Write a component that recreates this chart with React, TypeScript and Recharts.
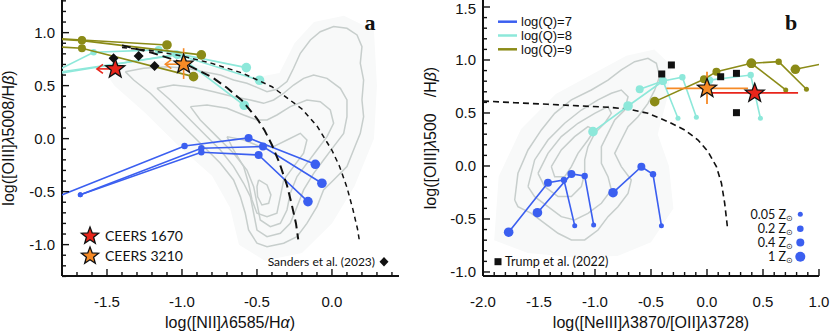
import React from 'react';
import { ComposedChart, Scatter, XAxis, YAxis } from 'recharts';

type Pt = { x: number; y: number; z?: number };
const pts = (rows: number[][]): Pt[] => rows.map(([x, y, z]) => ({ x, y, z }));

const BLUE = '#3b5ff0';
const TEAL = '#8de8da';
const OLIVE = '#8b8b17';
const GREY = '#c7cecc';
const RED = '#e8251b';
const ORANGE = '#f68a26';
const Z_R = [2.5, 3.2, 4, 4.8];

// ---------- panel a : [NII] BPT ----------
const blueA = [
  pts([[-1.9, -0.586, -1], [-0.983, -0.069, 1], [-0.556, 0.007, 2], [-0.111, -0.242, 3]]),
  pts([[-1.678, -0.53, 0], [-0.871, -0.09, 1], [-0.46, -0.075, 2], [-0.067, -0.421, 3]]),
  pts([[-1.678, -0.53, 0], [-0.871, -0.128, 1], [-0.489, -0.154, 2], [-0.16, -0.594, 3]]),
];
const tealA = [
  pts([[-1.95, 0.56, -1], [-1.589, 0.815, 1], [-1.156, 0.837, 2], [-0.571, 0.67, 3]]),
  pts([[-1.95, 0.585, -1], [-1.038, 0.796, 2], [-0.483, 0.551, 3]]),
  pts([[-1.95, 0.6, -1], [-1.03, 0.79, 2], [-0.585, 0.315, 3]]),
];
const oliveA = [
  pts([[-1.95, 0.955, -1], [-1.667, 0.931, 2], [-1.1, 0.884, 3]]),
  pts([[-1.95, 0.948, -1], [-1.667, 0.925, 2], [-0.871, 0.79, 3]]),
  pts([[-1.95, 0.875, -1], [-1.667, 0.853, 2], [-0.923, 0.585, 3]]),
];
const sandersA = pts([[-1.456, 0.758], [-1.289, 0.78], [-1.183, 0.686]]);
const kauffmannA = pts([
  [-1.4, 0.88], [-1.2, 0.81], [-1.0, 0.72], [-0.8, 0.58], [-0.7, 0.48], [-0.6, 0.36], [-0.5, 0.19],
  [-0.45, 0.08], [-0.4, -0.06], [-0.35, -0.23], [-0.3, -0.44], [-0.27, -0.61], [-0.24, -0.8], [-0.225, -0.95],
]);
const kewleyA = pts([
  [-1.4, 0.86], [-1.2, 0.83], [-1.0, 0.78], [-0.8, 0.71], [-0.6, 0.62], [-0.4, 0.49], [-0.2, 0.28],
  [-0.1, 0.12], [0.0, -0.11], [0.05, -0.26], [0.1, -0.46], [0.14, -0.67], [0.17, -0.85], [0.185, -0.98],
]);
// faint SDSS point cloud (outer envelope)
const cloudA = pts([
  [-1.55, 0.7], [-1.3, 0.74], [-1.0, 0.73], [-0.75, 0.66], [-0.5, 0.58], [-0.35, 0.62], [-0.25, 0.9], [-0.12, 1.1],
  [0.08, 1.16], [0.28, 1.02], [0.3, 0.5], [0.28, 0.0], [0.15, -0.45], [0.0, -0.8], [-0.2, -1.08], [-0.45, -1.15],
  [-0.62, -1.0], [-0.68, -0.65], [-0.8, -0.35], [-1.0, -0.1], [-1.25, 0.25], [-1.45, 0.5], [-1.55, 0.7],
]);
const contoursA = [
  pts([[-1.378, 0.632], [-1.256, 0.664], [-1.1, 0.679], [-0.967, 0.664], [-0.856, 0.632], [-0.744, 0.601], [-0.656, 0.553], [-0.567, 0.522], [-0.5, 0.484], [-0.433, 0.443], [-0.367, 0.465], [-0.3, 0.538], [-0.256, 0.664], [-0.211, 0.805], [-0.144, 0.931], [-0.078, 1.009], [0.011, 1.057], [0.1, 1.041], [0.167, 0.978], [0.2, 0.868], [0.189, 0.711], [0.211, 0.553], [0.2, 0.365], [0.211, 0.208], [0.189, 0.05], [0.144, -0.107], [0.1, -0.264], [0.011, -0.39], [-0.056, -0.484], [-0.1, -0.642], [-0.167, -0.799], [-0.233, -0.925], [-0.322, -0.987], [-0.433, -1.019], [-0.5, -0.987], [-0.556, -0.862], [-0.578, -0.704], [-0.611, -0.547], [-0.656, -0.39], [-0.744, -0.233], [-0.856, -0.075], [-0.967, 0.082], [-1.1, 0.27], [-1.211, 0.428], [-1.322, 0.553], [-1.378, 0.632]]),
  pts([[-1.167, 0.475], [-1.056, 0.506], [-0.922, 0.484], [-0.789, 0.443], [-0.656, 0.396], [-0.544, 0.365], [-0.456, 0.333], [-0.389, 0.365], [-0.322, 0.428], [-0.256, 0.506], [-0.189, 0.569], [-0.122, 0.601], [-0.033, 0.569], [0.056, 0.475], [0.1, 0.365], [0.1, 0.208], [0.078, 0.05], [0.011, -0.075], [-0.056, -0.201], [-0.122, -0.327], [-0.189, -0.484], [-0.233, -0.642], [-0.278, -0.799], [-0.344, -0.893], [-0.433, -0.925], [-0.5, -0.862], [-0.522, -0.704], [-0.544, -0.547], [-0.589, -0.421], [-0.656, -0.264], [-0.744, -0.107], [-0.856, 0.05], [-0.967, 0.208], [-1.078, 0.365], [-1.167, 0.475]]),
  pts([[-0.944, 0.302], [-0.833, 0.318], [-0.7, 0.286], [-0.589, 0.223], [-0.5, 0.176], [-0.433, 0.176], [-0.367, 0.223], [-0.278, 0.302], [-0.167, 0.365], [-0.078, 0.349], [-0.011, 0.27], [0.011, 0.145], [-0.033, 0.019], [-0.1, -0.107], [-0.167, -0.233], [-0.233, -0.358], [-0.278, -0.516], [-0.3, -0.673], [-0.344, -0.799], [-0.411, -0.83], [-0.478, -0.767], [-0.5, -0.61], [-0.522, -0.453], [-0.567, -0.296], [-0.656, -0.138], [-0.767, 0.019], [-0.878, 0.176], [-0.944, 0.302]]),
  pts([[-0.7, 0.019], [-0.589, -0.013], [-0.478, -0.075], [-0.389, -0.075], [-0.3, -0.013], [-0.211, 0.05], [-0.167, -0.013], [-0.189, -0.138], [-0.256, -0.264], [-0.322, -0.39], [-0.344, -0.547], [-0.367, -0.704], [-0.433, -0.736], [-0.5, -0.704], [-0.533, -0.579], [-0.556, -0.421], [-0.589, -0.264], [-0.656, -0.107], [-0.7, 0.019]]),
  pts([[-0.489, -0.39], [-0.433, -0.437], [-0.407, -0.531], [-0.422, -0.61], [-0.467, -0.626], [-0.496, -0.547], [-0.5, -0.453], [-0.489, -0.39]]),
];
const redA = pts([[-1.445, 0.658]]);
const orangeA = pts([[-0.989, 0.702]]);
const redArrowA = pts([[-1.445, 0.658, -1], [-1.567, 0.658, 9]]);
const orangeArrowA = pts([[-0.989, 0.702, -1], [-1.111, 0.702, 9]]);
const orangeErrA = pts([[-0.989, 0.563], [-0.989, 0.853]]);

// ---------- panel b : [NeIII]/[OII] ----------
const blueB = [
  pts([[-1.771, -0.625, 3], [-1.42, -0.158, 2], [-1.277, -0.132, 1], [-1.181, -0.563, 0]]),
  pts([[-1.514, -0.441, 3], [-1.211, -0.075, 2], [-1.092, -0.094, 1], [-1.012, -0.557, 0]]),
  pts([[-0.839, -0.252, 3], [-0.586, -0.007, 2], [-0.482, -0.078, 1], [-0.407, -0.563, 0]]),
];
const tealB = [
  pts([[-1.018, 0.324, 3], [-0.705, 0.566, 3], [-0.393, 0.802, 2], [-0.259, 0.45, 0]]),
  pts([[-0.601, 0.724, 2], [-0.393, 0.802, 2], [-0.22, 0.837, 1], [-0.095, 0.459, 0]]),
  pts([[0.02, 0.81, 2], [0.39, 0.858, 1], [0.477, 0.45, 0]]),
];
const oliveB = [
  pts([[-0.467, 0.607, 3], [-0.027, 0.818, 2], [0.084, 0.89, 2], [0.396, 0.969, 3], [0.64, 0.984, 1], [0.888, 0.724, 0]]),
  pts([[0.396, 0.969, 3], [0.703, 0.717, 0]]),
  pts([[0.789, 0.912, 3], [1.2, 1.0, -1]]),
];
const trumpB = pts([[-0.404, 0.868], [-0.318, 0.953], [0.122, 0.842], [0.263, 0.874], [0.263, 0.503]]);
const demarcB = pts([
  [-2.0, 0.613], [-1.717, 0.597], [-1.42, 0.582], [-1.121, 0.566], [-0.884, 0.554], [-0.705, 0.538], [-0.527, 0.497],
  [-0.348, 0.418], [-0.199, 0.34], [-0.08, 0.245], [0.009, 0.135], [0.084, -0.006], [0.129, -0.163], [0.158, -0.352], [0.182, -0.573],
]);
const cloudB = pts([
  [-1.9, -0.7], [-1.86, -0.1], [-1.66, 0.35], [-1.35, 0.68], [-1.0, 0.88], [-0.72, 1.04], [-0.47, 1.1], [-0.32, 0.95],
  [-0.36, 0.62], [-0.44, 0.3], [-0.34, 0.0], [-0.3, -0.4], [-0.5, -0.72], [-0.8, -0.85], [-1.2, -0.86], [-1.6, -0.82], [-1.9, -0.7],
]);
const contoursB = [
  pts([[-1.717, -0.321], [-1.688, -0.069], [-1.598, 0.151], [-1.479, 0.34], [-1.36, 0.497], [-1.211, 0.623], [-1.033, 0.717], [-0.884, 0.811], [-0.765, 0.906], [-0.646, 0.984], [-0.527, 1.016], [-0.452, 0.969], [-0.423, 0.843], [-0.467, 0.717], [-0.527, 0.591], [-0.616, 0.465], [-0.705, 0.371], [-0.765, 0.245], [-0.824, 0.119], [-0.765, -0.006], [-0.676, -0.132], [-0.705, -0.258], [-0.795, -0.384], [-0.884, -0.478], [-0.973, -0.604], [-1.092, -0.698], [-1.211, -0.698], [-1.33, -0.635], [-1.449, -0.541], [-1.568, -0.447], [-1.688, -0.384], [-1.717, -0.321]]),
  pts([[-1.598, -0.195], [-1.539, 0.057], [-1.42, 0.245], [-1.271, 0.403], [-1.122, 0.528], [-0.973, 0.623], [-0.854, 0.686], [-0.765, 0.717], [-0.705, 0.654], [-0.735, 0.528], [-0.824, 0.434], [-0.884, 0.308], [-0.943, 0.182], [-0.943, 0.025], [-0.884, -0.101], [-0.854, -0.226], [-0.943, -0.352], [-1.063, -0.447], [-1.182, -0.509], [-1.301, -0.478], [-1.42, -0.384], [-1.539, -0.289], [-1.598, -0.195]]),
  pts([[-1.509, -0.069], [-1.42, 0.119], [-1.301, 0.277], [-1.152, 0.403], [-1.003, 0.497], [-0.884, 0.56], [-0.854, 0.497], [-0.914, 0.403], [-1.003, 0.308], [-1.063, 0.182], [-1.092, 0.057], [-1.092, -0.069], [-1.122, -0.195], [-1.211, -0.289], [-1.33, -0.289], [-1.449, -0.195], [-1.509, -0.069]]),
  pts([[-1.39, -0.006], [-1.301, 0.151], [-1.182, 0.277], [-1.063, 0.371], [-1.003, 0.34], [-1.063, 0.245], [-1.152, 0.119], [-1.211, -0.006], [-1.271, -0.101], [-1.36, -0.101], [-1.39, -0.006]]),
];
const orangeB = pts([[0.0, 0.733]]);
const redB = pts([[0.426, 0.686]]);
const orangeErrXB = pts([[-0.362, 0.733], [0.366, 0.733]]);
const orangeErrYB = pts([[0.0, 0.585], [0.0, 0.89]]);
const redErrXB = pts([[0.009, 0.69], [0.813, 0.69]]);

const qLegend = [
  { label: 'log(Q)=7', color: BLUE },
  { label: 'log(Q)=8', color: TEAL },
  { label: 'log(Q)=9', color: OLIVE },
];
const zLegend = ['0.05', '0.2', '0.4', '1'];

// ---------- axes ----------
const range = (a: number, b: number) => {
  const out: number[] = [];
  for (let i = Math.round(a * 10); i <= Math.round(b * 10); i++) out.push(i / 10);
  return out;
};
const fmt = (v: number) => (Math.abs(v) < 1e-9 ? '0.0' : v.toFixed(1));
const isMajor = (v: number) => Math.abs(v * 2 - Math.round(v * 2)) < 1e-6;
const TICK_FONT = 'Liberation Sans, Arial, sans-serif';

const makeTick = (side: 'bottom' | 'left' | 'right') => (p: any) => {
  const v = p.payload.value;
  const major = isMajor(v);
  const L = major ? 7 : 4;
  const s = { stroke: '#111', strokeWidth: 1.4 };
  if (side === 'bottom')
    return (
      <g>
        <line x1={p.x} x2={p.x} y1={p.y} y2={p.y - L} {...s} />
        {major && (
          <text x={p.x} y={p.y + 31} textAnchor="middle" fontSize={15} fontFamily={TICK_FONT} fill="#111">
            {fmt(v)}
          </text>
        )}
      </g>
    );
  if (side === 'left')
    return (
      <g>
        <line x1={p.x} x2={p.x + L} y1={p.y} y2={p.y} {...s} />
        {major && (
          <text x={p.x - 7} y={Math.max(p.y + 5.5, 13.5)} textAnchor="end" fontSize={15} fontFamily={TICK_FONT} fill="#111">
            {fmt(v)}
          </text>
        )}
      </g>
    );
  return <line x1={p.x} x2={p.x - L} y1={p.y} y2={p.y} {...s} />;
};

const frame = { stroke: '#111', strokeWidth: 2 };

const axes = (xd: number[], yd: number[], yw: number) => [
  <XAxis key="xb" type="number" dataKey="x" domain={xd} allowDataOverflow ticks={range(xd[0], xd[1])} interval={0}
    tickSize={0} tickMargin={0} tickLine={false} axisLine={frame} height={57} tick={makeTick('bottom')} />,
  <YAxis key="yl" type="number" dataKey="y" domain={yd} allowDataOverflow ticks={range(yd[0], yd[1])} interval={0}
    tickSize={0} tickMargin={0} tickLine={false} axisLine={frame} width={yw} tick={makeTick('left')} />,
  <YAxis key="yr" yAxisId="r" orientation="right" type="number" dataKey="y" domain={yd} allowDataOverflow
    ticks={range(yd[0], yd[1])} interval={0} tickSize={0} tickMargin={0} tickLine={false} axisLine={frame}
    width={0} tick={makeTick('right')} />,
];

// ---------- shapes ----------
const none = () => <g />;
const dotShape = (color: string) => (p: any) => {
  const z = p.payload?.z;
  if (z == null || z < 0 || z > 3) return <g />;
  return <circle cx={p.cx} cy={p.cy} r={Z_R[z]} fill={color} />;
};
const starPts = (cx: number, cy: number, R: number) => {
  const out: string[] = [];
  for (let i = 0; i < 10; i++) {
    const a = -Math.PI / 2 + (i * Math.PI) / 5;
    const r = i % 2 ? R * 0.42 : R;
    out.push(`${cx + r * Math.cos(a)},${cy + r * Math.sin(a)}`);
  }
  return out.join(' ');
};
const starShape = (fill: string, R: number) => (p: any) => (
  <polygon points={starPts(p.cx, p.cy, R)} fill={fill} stroke="#111" strokeWidth={1.3} />
);
const headShape = (color: string) => (p: any) =>
  p.payload?.z === 9 ? (
    <polyline points={`${p.cx + 6},${p.cy - 4.5} ${p.cx},${p.cy} ${p.cx + 6},${p.cy + 4.5}`} fill="none" stroke={color} strokeWidth={1.6} />
  ) : (
    <g />
  );
const diamondShape = (p: any) => (
  <polygon points={`${p.cx},${p.cy - 5} ${p.cx + 5},${p.cy} ${p.cx},${p.cy + 5} ${p.cx - 5},${p.cy}`} fill="#111" />
);
const squareShape = (p: any) => <rect x={p.cx - 3.5} y={p.cy - 3.5} width={7} height={7} fill="#111" />;

const path = (key: string, data: Pt[], color: string, w = 1.6, dash?: string, shape: any = none) => (
  <Scatter key={key} data={data} line={{ stroke: color, strokeWidth: w, strokeDasharray: dash }} shape={shape} isAnimationActive={false} />
);
const cloud = (key: string, data: Pt[]) => (
  <Scatter key={key} data={data} line={{ stroke: 'none', fill: '#f8f9f9' }} shape={none} isAnimationActive={false} />
);
const tracks = (name: string, sets: Pt[][], color: string) =>
  sets.map((d, i) => path(`${name}${i}`, d, color, 1.6, undefined, dotShape(color)));
const marks = (key: string, data: Pt[], shape: any) => (
  <Scatter key={key} data={data} shape={shape} isAnimationActive={false} />
);

const LEG_FONT = 'Lato, Open Sans, sans-serif';
const it = (s: string) => <tspan fontStyle="italic">{s}</tspan>;

export default function App() {
  return (
    <div style={{ position: 'absolute', left: 0, top: 0, width: 830, height: 333, background: '#fff' }}>
      <div style={{ position: 'absolute', left: 0, top: 0 }}>
        <ComposedChart width={415} height={333} margin={{ top: 0, right: 16, bottom: 0, left: 0 }}>
          {axes([-1.8, 0.447], [-1.296, 1.308], 62)}
          {cloud('cla', cloudA)}
          {contoursA.map((c, i) => path(`ca${i}`, c, GREY, 1.5))}
          {tracks('ba', blueA, BLUE)}
          {tracks('ta', tealA, TEAL)}
          {tracks('oa', oliveA, OLIVE)}
          {path('kw', kewleyA, '#111', 1.5, '5 4')}
          {path('ka', kauffmannA, '#111', 2, '9 5')}
          {marks('sa', sandersA, diamondShape)}
          {path('rarr', redArrowA, RED, 1.6, undefined, headShape(RED))}
          {path('oarr', orangeArrowA, ORANGE, 1.6, undefined, headShape(ORANGE))}
          {path('oerr', orangeErrA, ORANGE, 1.6)}
          {marks('rs', redA, starShape(RED, 10))}
          {marks('os', orangeA, starShape(ORANGE, 10))}
        </ComposedChart>
      </div>
      <div style={{ position: 'absolute', left: 415, top: 0 }}>
        <ComposedChart width={415} height={333} margin={{ top: 0, right: 11, bottom: 0, left: 0 }}>
          {axes([-2, 1], [-1.038, 1.566], 68)}
          {cloud('clb', cloudB)}
          {contoursB.map((c, i) => path(`cb${i}`, c, GREY, 1.5))}
          {path('dm', demarcB, '#111', 1.6, '6 4')}
          {tracks('bb', blueB, BLUE)}
          {tracks('tb', tealB, TEAL)}
          {tracks('ob', oliveB, OLIVE)}
          {marks('tr', trumpB, squareShape)}
          {path('oex', orangeErrXB, ORANGE, 1.8)}
          {path('oey', orangeErrYB, ORANGE, 1.8)}
          {path('rex', redErrXB, RED, 1.8)}
          {marks('osb', orangeB, starShape(ORANGE, 10))}
          {marks('rsb', redB, starShape(RED, 10))}
        </ComposedChart>
      </div>
      <svg width={830} height={333} style={{ position: 'absolute', left: 0, top: 0, pointerEvents: 'none' }}>
        <g fontFamily={TICK_FONT} fontSize={16} fill="#111">
          <text x={230} y={328} textAnchor="middle">log([NII]{it('λ')}6585/H{it('α')})</text>
          <text x={651} y={328} textAnchor="middle">log([NeIII]{it('λ')}3870/[OII]{it('λ')}3728)</text>
          <text transform="translate(14,138) rotate(-90)" textAnchor="middle">log([OIII]{it('λ')}5008/H{it('β')})</text>
          <text transform="translate(436,138) rotate(-90)" textAnchor="middle">log([OIII]{it('λ')}500{'\u2002\u2002'}/H{it('β')})</text>
        </g>
        <g fontFamily="Liberation Serif, serif" fontWeight="bold" fontSize={22} fill="#111" textAnchor="middle">
          <text x={370} y={30}>a</text>
          <text x={791} y={30}>b</text>
        </g>
        <polygon points={starPts(90, 236, 9)} fill={RED} stroke="#111" strokeWidth={1.3} />
        <polygon points={starPts(90, 256, 9)} fill={ORANGE} stroke="#111" strokeWidth={1.3} />
        <g fontFamily={LEG_FONT} fontSize={14} fill="#111">
          <text x={105} y={241}>CEERS 1670</text>
          <text x={105} y={261}>CEERS 3210</text>
        </g>
        <text x={375} y={266} textAnchor="end" fontFamily={LEG_FONT} fontSize={12} fill="#111">Sanders et al. (2023)</text>
        <polygon points="384,257 388.5,261.7 384,266.4 379.5,261.7" fill="#111" />
        {qLegend.map((q, i) => (
          <g key={q.label}>
            <line x1={498} x2={517} y1={21.7 + i * 13.8} y2={21.7 + i * 13.8} stroke={q.color} strokeWidth={2.5} />
            <text x={521} y={26.3 + i * 13.8} fontFamily={TICK_FONT} fontSize={13} fill="#111">{q.label}</text>
          </g>
        ))}
        <rect x={494.5} y={258.2} width={7} height={7} fill="#111" />
        <text x={505} y={266} fontFamily={LEG_FONT} fontSize={12.5} fill="#111">Trump et al. (2022)</text>
        {zLegend.map((z, i) => {
          const y = [214.3, 228.8, 242.5, 256.7][i];
          return (
            <g key={z}>
              <text x={793} y={y + 4.3} textAnchor="end" fontFamily={LEG_FONT} fontSize={12.5} fill="#111">
                {z} Z<tspan fontSize={7.5} dy={2}>⊙</tspan>
              </text>
              <circle cx={800.3} cy={y} r={[2.5, 3.3, 4, 5][i]} fill={BLUE} />
            </g>
          );
        })}
      </svg>
    </div>
  );
}
